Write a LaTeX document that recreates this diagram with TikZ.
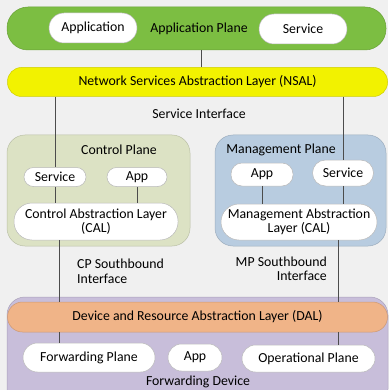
\documentclass[tikz,border=0pt]{standalone}
\usepackage{fontspec}
\setmainfont{Carlito}
\begin{document}
\begin{tikzpicture}[x=1pt,y=-1pt,
  font=\fontsize{13.8}{14.5}\selectfont,
  plane/.style={draw=#1!85!black, line width=0.5pt, fill=#1, rounded corners=18pt, inner sep=0pt},
  pill/.style={draw=gray!55, line width=0.5pt, fill=white, rounded corners=#1, inner sep=0pt, align=center},
  pill/.default=10pt,
  link/.style={draw=black!70, line width=0.8pt},
  lbl/.style={inner sep=0pt, text=black}]
\definecolor{appgreen}{RGB}{124,190,66}
\definecolor{nsalyellow}{RGB}{242,242,0}
\definecolor{cpgreen}{RGB}{220,226,196}
\definecolor{mpblue}{RGB}{184,204,224}
\definecolor{dalorange}{RGB}{240,180,136}
\definecolor{fdpurple}{RGB}{200,190,218}
\useasboundingbox (0,0) rectangle (388,390);
\fill[black!6] (0,0) rectangle (388,390);

% planes
\node[plane=fdpurple, minimum width=381pt, minimum height=110pt] (fd) at (197.5,352) {};
\node[plane=cpgreen, minimum width=183pt, minimum height=111pt] (cp) at (98.5,190.5) {};
\node[plane=mpblue, minimum width=171pt, minimum height=111pt] (mp) at (300.5,190.5) {};
\node[plane=appgreen, rounded corners=21pt, minimum width=379pt, minimum height=43pt] (appplane) at (196.5,28.5) {};
\node[lbl] at (199,29) {Application Plane};
\node[plane=nsalyellow, rounded corners=14pt, minimum width=380pt, minimum height=29pt] (nsal) at (197.5,82) {Network Services Abstraction Layer (NSAL)};
\node[plane=dalorange, rounded corners=15pt, minimum width=380pt, minimum height=30pt] (dal) at (197.5,317) {Device and Resource Abstraction Layer (DAL)};

% inner pills
\node[pill=15pt, minimum width=88pt, minimum height=30pt] (app1) at (93,28) {Application};
\node[pill=15pt, minimum width=88pt, minimum height=30pt] (svc1) at (303,29) {Service};

\node[lbl] (cptitle) at (119,150) {Control Plane};
\node[pill=9.5pt, minimum width=62pt, minimum height=19pt] (cpsvc) at (55,177) {Service};
\node[pill=9.5pt, minimum width=60pt, minimum height=19pt] (cpapp) at (137,177) {App};
\node[pill=18pt, minimum width=164pt, minimum height=37pt] (cal) at (96,221.5) {Control Abstraction Layer\\(CAL)};

\node[lbl] (mptitle) at (281,150) {Management Plane};
\node[pill=11pt, minimum width=62pt, minimum height=23pt] (mpapp) at (262,174.5) {App};
\node[pill=13pt, minimum width=61pt, minimum height=26pt] (mpsvc) at (343,173) {Service};
\node[pill=18pt, minimum width=156pt, minimum height=36pt] (mal) at (299,222) {Management Abstraction\\Layer (CAL)};

\node[lbl] (si) at (199,114) {Service Interface};
\node[lbl, anchor=north west, align=left] (cpsb) at (77,259) {CP Southbound\\Interface};
\node[lbl, anchor=north east, align=right] (mpsb) at (327,256.5) {MP Southbound\\Interface};

\node[pill=14.5pt, minimum width=132pt, minimum height=29pt] (fwd) at (89,357.5) {Forwarding Plane};
\node[pill=13.5pt, minimum width=54pt, minimum height=27pt] (fdapp) at (195,357.5) {App};
\node[pill=13.5pt, minimum width=133pt, minimum height=27pt] (opl) at (308.5,358.5) {Operational Plane};
\node[lbl] (fdtitle) at (198,382) {Forwarding Device};

% connectors
\coordinate (ax) at (201,0);
\coordinate (cx) at (59,0);
\coordinate (mx) at (338,0);
\draw[link] (appplane.south -| ax) -- (nsal.north -| ax);
\draw[link] (nsal.south -| cpsvc.north) -- (cpsvc.north);
\draw[link] (nsal.south -| mpsvc.north) -- (mpsvc.north);
\draw[link] (cpsvc.south) -- (cal.north -| cpsvc.south);
\draw[link] (cpapp.south) -- (cal.north -| cpapp.south);
\draw[link] (mpapp.south) -- (mal.north -| mpapp.south);
\draw[link] (mpsvc.south) -- (mal.north -| mpsvc.south);
\draw[link] (cal.south -| cx) -- (dal.north -| cx);
\draw[link] (mal.south -| mx) -- (dal.north -| mx);
\draw[link] (dal.south -| cx) -- (fwd.north -| cx);
\draw[link] (dal.south -| mx) -- (opl.north -| mx);
\end{tikzpicture}
\end{document}
